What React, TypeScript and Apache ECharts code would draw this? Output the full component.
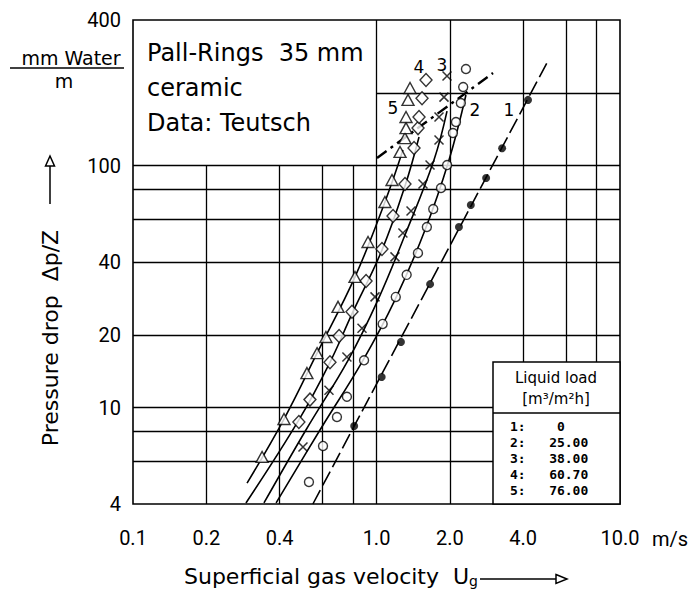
import React, { useEffect, useRef } from "react";
import * as echarts from "echarts";

// ---- axes / ticks ----
const xTickValues = [0.1, 0.2, 0.4, 1, 2, 4, 10];
const yTickValues = [4, 10, 20, 40, 100, 400];
const xLinesLower = [0.2, 0.4, 0.6, 0.8]; // from 4 to 100
const xLinesFull = [1, 2, 4, 6, 8]; // from 4 to 400
const yLinesFull = [6, 8, 10, 20, 40, 60, 80, 100]; // full width
const yLinesUpper = [200]; // from x = 1 to 10

// ---- measured points (gas velocity m/s, pressure drop mm water / m) ----
const dryPoints = [
  [0.81, 8.4], [1.05, 13.4], [1.26, 18.7], [1.66, 32.4], [2.18, 55.8],
  [2.44, 68.8], [2.82, 88.9], [3.28, 118], [4.19, 187],
];
const circlePoints = [
  [0.528, 4.93], [0.603, 6.95], [0.688, 9.15], [0.756, 11.1], [0.889, 15.7],
  [1.06, 22.2], [1.2, 28.7], [1.33, 35.4], [1.48, 43.6], [1.61, 55.8],
  [1.71, 66.2], [1.84, 80.9], [1.95, 100.6], [2.06, 136.5], [2.12, 151.6],
  [2.22, 181.6], [2.27, 211.4], [2.33, 250.9],
];
const crossPoints = [
  [0.499, 6.88], [0.638, 11.8], [0.756, 16.2], [0.872, 21.3], [0.986, 28.7],
  [1.191, 42], [1.284, 52.7], [1.386, 65], [1.552, 84], [1.659, 100.6],
  [1.806, 127.7], [1.806, 159], [1.893, 192], [1.948, 234.8],
];
const diamondPoints = [
  [0.48, 8.73], [0.533, 10.8], [0.644, 15.4], [0.702, 19.8], [0.793, 24.9],
  [0.906, 33.4], [1.053, 45.3], [1.169, 62], [1.309, 84], [1.426, 118.4],
  [1.481, 143], [1.495, 159], [1.538, 190], [1.597, 226],
];
const trianglePoints = [
  [0.339, 6.26], [0.417, 8.98], [0.518, 13.9], [0.57, 16.8], [0.62, 19.6],
  [0.695, 26.1], [0.816, 34.7], [0.923, 48.4], [1.083, 70.8], [1.158, 87.3],
  [1.249, 114], [1.309, 130], [1.322, 143], [1.322, 159], [1.347, 187],
  [1.373, 209.5],
];

// ---- fitted curves ----
const dryCurve = [[0.548, 4], [5.0, 265]];
const curve2 = [[0.387, 4.04], [0.586, 8.09], [0.88, 15.7], [1.191, 27.9], [1.582, 54.2], [1.985, 105.6], [2.33, 196]];
const curve3 = [[0.345, 4.04], [0.513, 8.09], [0.764, 15.7], [1.014, 27.9], [1.309, 51.7], [1.722, 105.6], [1.948, 168]];
const curve4 = [[0.291, 4.04], [0.48, 8.9], [0.644, 15.4], [0.793, 24.4], [1.053, 44.8], [1.309, 82.4], [1.495, 131.4]];
const curve5 = [[0.294, 4.88], [0.417, 8.98], [0.57, 16.8], [0.816, 34.7], [1.083, 70.8], [1.284, 116]];
const loadingLine = [[1.005, 107.6], [3.01, 241.6]];

// ---- texts ----
const boxLines = ["Pall-Rings  35 mm", "ceramic", "Data: Teutsch"];
const legendTitle = ["Liquid load", "[m³/m²h]"];
const legendRows = ["1:    0", "2:   25.00", "3:   38.00", "4:   60.70", "5:   76.00"];
const curveLabels = ["1", "2", "3", "4", "5"];

const FONT = "'DejaVu Sans', sans-serif";
const TICKFONT = "Roboto, 'DejaVu Sans', sans-serif";

function fmtX(v: number) {
  return v >= 1 ? v.toFixed(1) : String(v);
}

export default function App() {
  const ref = useRef<HTMLDivElement>(null);
  useEffect(() => {
    const chart = echarts.init(ref.current!, null, { renderer: "svg" });
    const seg = (a: number[], b: number[]) => [{ coord: a }, { coord: b }];
    const gridSegs = [
      ...xLinesLower.map((x) => seg([x, 4], [x, 100])),
      ...xLinesFull.map((x) => seg([x, 4], [x, 400])),
      ...yLinesFull.map((y) => seg([0.1, y], [10, y])),
      ...yLinesUpper.map((y) => seg([1, y], [10, y])),
    ];
    const curveStyle = { color: "#000", width: 1.6 };
    const curveSeries = (data: number[][], extra: any = {}) => ({
      type: "line",
      data,
      smooth: 0.4,
      symbol: "none",
      z: 3,
      lineStyle: { ...curveStyle, ...extra },
      silent: true,
    });
    const openMarker = (data: number[][], symbol: string, size: any) => ({
      type: "scatter",
      data,
      symbol,
      symbolSize: size,
      z: 5,
      itemStyle: { color: "#fff", borderColor: "#000", borderWidth: 1.4 },
      silent: true,
    });

    const g: any[] = [];
    // annotation box text
    boxLines.forEach((t, i) => {
      g.push({
        type: "text", x: 147, y: 53 + i * 35, z: 60,
        style: { text: t, font: `24px ${FONT}`, fill: "#000", verticalAlign: "middle" },
      });
    });
    // y-axis unit fraction
    g.push({ type: "text", x: 71, y: 58, z: 60, style: { text: "mm Water", font: `19px ${FONT}`, fill: "#000", align: "center", verticalAlign: "middle" } });
    g.push({ type: "line", z: 60, shape: { x1: 10, y1: 68, x2: 124, y2: 68 }, style: { stroke: "#000", lineWidth: 1.5 } });
    g.push({ type: "text", x: 64, y: 81, z: 60, style: { text: "m", font: `19px ${FONT}`, fill: "#000", align: "center", verticalAlign: "middle" } });
    // y title + arrow
    g.push({
      type: "text", x: 50, y: 338, rotation: Math.PI / 2, z: 60,
      style: { text: "Pressure drop  Δp/Z", font: `22px ${FONT}`, fill: "#000", align: "center", verticalAlign: "middle" },
    });
    g.push({ type: "line", z: 60, shape: { x1: 50, y1: 204, x2: 50, y2: 166 }, style: { stroke: "#000", lineWidth: 1.5 } });
    g.push({ type: "polygon", z: 60, shape: { points: [[45.5, 166], [50, 156], [54.5, 166]] }, style: { fill: "#fff", stroke: "#000", lineWidth: 1.5 } });
    // x title + arrow
    g.push({
      type: "text", x: 184, y: 576, z: 60,
      style: {
        text: "{a|Superficial gas velocity  U}{b|g}",
        rich: {
          a: { font: `22px ${FONT}`, fill: "#000" },
          b: { font: `14px ${FONT}`, fill: "#000", padding: [10, 0, 0, 0] },
        },
        verticalAlign: "middle",
      },
    });
    g.push({ type: "line", z: 60, shape: { x1: 480, y1: 579, x2: 556, y2: 579 }, style: { stroke: "#000", lineWidth: 1.5 } });
    g.push({ type: "polygon", z: 60, shape: { points: [[556, 574.5], [567, 579], [556, 583.5]] }, style: { fill: "#fff", stroke: "#000", lineWidth: 1.5 } });
    // unit m/s
    g.push({ type: "text", x: 652, y: 539, z: 60, style: { text: "m/s", font: `20px ${TICKFONT}`, fill: "#000", verticalAlign: "middle" } });
    // legend box
    g.push({ type: "rect", z: 50, shape: { x: 493, y: 362, width: 127, height: 142 }, style: { fill: "#fff", stroke: "#000", lineWidth: 1.5 } });
    g.push({ type: "line", z: 60, shape: { x1: 493, y1: 413, x2: 620, y2: 413 }, style: { stroke: "#000", lineWidth: 1.5 } });
    legendTitle.forEach((t, i) => {
      g.push({ type: "text", x: 556, y: 378 + i * 21, z: 60, style: { text: t, font: `15px ${FONT}`, fill: "#000", align: "center", verticalAlign: "middle" } });
    });
    legendRows.forEach((t, i) => {
      g.push({ type: "text", x: 510, y: 426 + i * 16, z: 60, style: { text: t, font: `bold 13px 'DejaVu Sans Mono', monospace`, fill: "#000", verticalAlign: "middle" } });
    });
    // curve numbers
    const labelPos = [[509, 110], [475, 110], [442, 65], [419, 67], [393, 108]];
    curveLabels.forEach((t, i) => {
      g.push({ type: "text", x: labelPos[i][0], y: labelPos[i][1], z: 60, style: { text: t, font: `17px ${FONT}`, fill: "#000", align: "center", verticalAlign: "middle" } });
    });

    chart.setOption({
      animation: false,
      backgroundColor: "#fff",
      textStyle: { fontFamily: FONT },
      grid: { left: 133, right: 69, top: 20, bottom: 94, show: true, borderColor: "#000", borderWidth: 1.6, backgroundColor: "transparent" },
      xAxis: {
        type: "log", min: 0.1, max: 10, logBase: 10,
        axisLine: { show: false }, axisTick: { show: false }, splitLine: { show: false }, minorSplitLine: { show: false },
        axisLabel: { customValues: xTickValues, formatter: (v: number) => fmtX(v), fontFamily: TICKFONT, fontSize: 20, color: "#000", margin: 24, showMinLabel: true, showMaxLabel: true },
      },
      yAxis: {
        type: "log", min: 4, max: 400, logBase: 10,
        axisLine: { show: false }, axisTick: { show: false }, splitLine: { show: false },
        axisLabel: { customValues: yTickValues, formatter: (v: number) => String(v), fontFamily: TICKFONT, fontSize: 20, color: "#000", margin: 12, showMinLabel: true, showMaxLabel: true },
      },
      series: [
        {
          type: "line", data: [[1, 100]], symbol: "none", silent: true, z: 1,
          lineStyle: { opacity: 0 },
          markLine: {
            silent: true, symbol: ["none", "none"], label: { show: false },
            lineStyle: { color: "#000", width: 1.3, type: "solid" },
            emphasis: { disabled: true },
            data: gridSegs,
          },
        },
        curveSeries(dryCurve, { type: [16, 5] }),
        curveSeries(curve2),
        curveSeries(curve3),
        curveSeries(curve4),
        curveSeries(curve5),
        curveSeries(loadingLine, { width: 2.4, type: [12, 5, 3, 5] }),
        { type: "scatter", data: dryPoints, symbol: "circle", symbolSize: 8, z: 5, itemStyle: { color: "#000" }, silent: true },
        openMarker(circlePoints, "circle", 9),
        {
          type: "scatter", data: crossPoints, symbol: "path://M0,0L10,10M10,0L0,10", symbolSize: 9, z: 5,
          itemStyle: { color: "none", borderColor: "#000", borderWidth: 1.5 }, silent: true,
        },
        openMarker(diamondPoints, "diamond", [12, 13]),
        openMarker(trianglePoints, "triangle", [12, 11]),
      ],
      graphic: g,
    });
    return () => chart.dispose();
  }, []);
  return <div ref={ref} style={{ position: "absolute", left: 0, top: 0, width: 689, height: 598 }} />;
}
